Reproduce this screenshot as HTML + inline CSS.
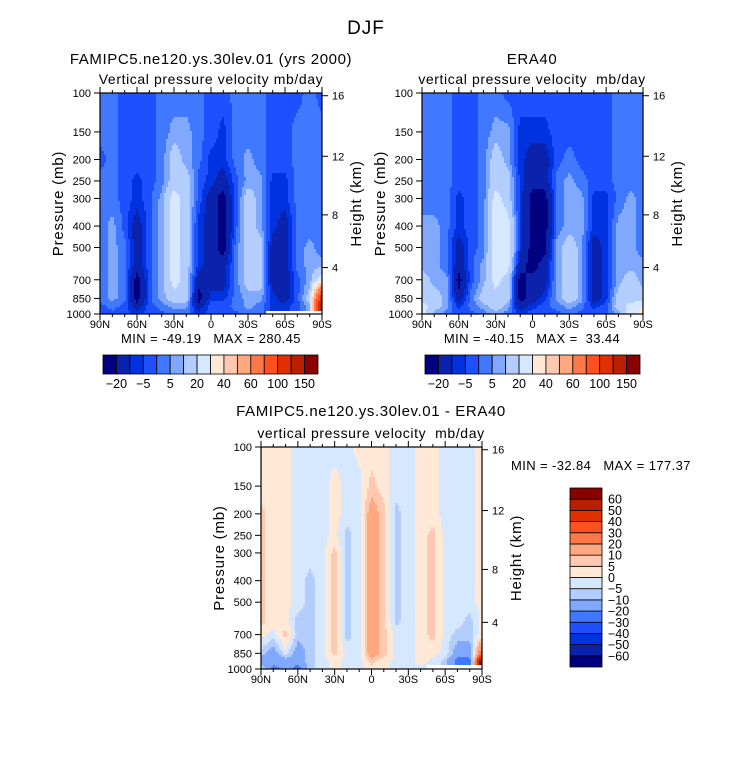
<!DOCTYPE html>
<html><head><meta charset="utf-8">
<style>
body{margin:0;background:#fff;}
svg text{font-family:"Liberation Sans",sans-serif;fill:#000;}
</style></head>
<body>
<svg id="fig" width="733" height="762" viewBox="0 0 733 762" xmlns="http://www.w3.org/2000/svg">
<rect x="0" y="0" width="733" height="762" fill="#fff"/>
<text x="366" y="34" font-size="19" text-anchor="middle" letter-spacing="1">DJF</text>
<text x="211" y="64" font-size="15" text-anchor="middle" letter-spacing="0.6">FAMIPC5.ne120.ys.30lev.01 (yrs 2000)</text>
<text x="211" y="84" font-size="14" text-anchor="middle" letter-spacing="0.6">Vertical pressure velocity mb/day</text>
<text x="532" y="64" font-size="15" text-anchor="middle" letter-spacing="0.6">ERA40</text>
<text x="532" y="84" font-size="14" text-anchor="middle" letter-spacing="0.6" xml:space="preserve">vertical pressure velocity  mb/day</text>
<text x="371" y="416" font-size="15" text-anchor="middle" letter-spacing="0.6">FAMIPC5.ne120.ys.30lev.01 - ERA40</text>
<text x="371" y="438" font-size="14" text-anchor="middle" letter-spacing="0.6" xml:space="preserve">vertical pressure velocity  mb/day</text>
<text x="211" y="343" font-size="13" text-anchor="middle" letter-spacing="0.4" xml:space="preserve">MIN = -49.19   MAX = 280.45</text>
<text x="532" y="343" font-size="13" text-anchor="middle" letter-spacing="0.4" xml:space="preserve">MIN = -40.15   MAX =  33.44</text>
<text x="511" y="470" font-size="13" letter-spacing="0.4" xml:space="preserve">MIN = -32.84   MAX = 177.37</text>
</svg>
<script>
const lats=[90,80,70,60,50,40,30,20,10,0,-10,-20,-30,-40,-50,-60,-70,-80,-90];
const pLevels=[100,150,200,250,300,400,500,600,700,850,925,1000];
const pTickLabels=[100,150,200,250,300,400,500,700,850,1000];
const latTickLabels=["90N","60N","30N","0","30S","60S","90S"];
const latTickValues=[90,60,30,0,-30,-60,-90];
const heightTicks=[16,12,8,4];
const palette=["#000080","#0a22ac","#0032e0","#1e50ff","#4078ff","#80a8ff","#b4cdff","#d6e8ff","#ffe8d6","#ffc8b0","#ffa880","#ff7848","#ff5020","#e03000","#b82000","#880000"];
const omegaLevels=[-20,-10,-5,0,5,10,20,30,40,50,60,80,100,120,150];
const omegaLabelIdx=[0,2,4,6,8,10,12,14];
const diffLevels=[-60,-50,-40,-30,-20,-10,-5,0,5,10,20,30,40,50,60];

const modelOmega=[
[2,2,-2,-2,-2,2,2,2,2,-2,-2,2,2,2,-2,-2,-2,2,-2],
[2,2,-2,-2,-2,2,7,7,2,-2,-7,2,2,2,-2,-2,2,2,2],
[-2,2,-2,-2,-2,2,15,7,2,-7,-7,2,7,2,-2,-2,2,2,2],
[2,2,-2,-7,-2,2,15,15,-2,-7,-15,-2,7,7,-7,-7,2,2,2],
[2,2,-2,-7,-2,7,25,15,-2,-15,-25,-2,15,7,-7,-7,2,2,2],
[2,7,-2,-15,-2,7,25,15,-7,-15,-25,-2,15,7,-7,-15,2,2,2],
[2,7,2,-15,-2,7,25,15,-7,-15,-25,2,15,15,-15,-15,2,7,2],
[2,7,2,-15,-2,7,25,15,-7,-15,-15,2,15,15,-15,-15,2,7,7],
[2,7,2,-25,-2,7,25,15,-15,-15,-15,2,15,15,-15,-15,-2,7,30],
[2,7,2,-25,-2,7,15,15,-25,-7,-7,2,7,7,-7,-15,-2,15,120],
[-2,2,-2,-15,-2,2,7,7,-15,-2,-2,2,7,2,-7,-7,-2,7,150],
[-2,-2,-2,-7,-2,-2,2,2,-7,-2,-2,-2,2,2,null,null,null,null,null]];

const eraOmega=[
[2,2,2,-2,-2,2,2,-2,-2,-2,-2,-2,-2,-2,-2,-2,2,2,2],
[2,2,2,-2,-2,2,7,7,-7,-7,-7,-2,-2,-2,-2,-2,2,2,2],
[2,2,2,-2,-2,2,15,7,-7,-15,-15,-2,2,-2,-2,-2,2,2,2],
[2,2,2,-2,-2,2,15,15,-7,-15,-15,2,7,2,-2,-2,2,2,2],
[2,2,2,-7,-2,2,25,15,-7,-25,-25,2,7,7,-7,-7,2,7,2],
[7,7,2,-7,-2,2,25,25,-7,-25,-25,2,7,7,-7,-7,7,7,2],
[7,7,2,-15,-2,2,25,25,-7,-25,-25,7,15,7,-15,-7,7,7,2],
[7,7,2,-15,-2,7,25,25,-15,-25,-15,7,15,7,-15,-7,7,7,7],
[15,7,7,-25,-2,7,25,15,-25,-15,-15,7,15,7,-15,-7,7,15,7],
[15,15,7,-15,2,15,15,15,-25,-15,-7,7,15,7,-15,-7,15,15,15],
[25,15,7,-7,2,7,15,7,-15,-7,-2,2,7,2,-7,-2,15,25,30],
[25,7,2,-2,-2,2,7,2,-7,-2,-2,-2,2,-2,-2,-2,7,25,35]];

const diffOmega=[
[2,2,2,-2,-2,-2,-2,-2,2,2,2,-2,-2,2,2,-2,-2,-2,2],
[2,2,2,-2,-2,-2,2,-2,-2,7,2,-2,-2,2,2,-2,-2,-2,2],
[7,2,2,-2,-2,-2,2,-2,-2,15,7,-7,-2,2,2,-2,-2,-2,2],
[7,2,2,-2,-2,-2,2,-7,-2,15,7,-7,-2,2,7,-2,-2,-2,2],
[7,2,2,-2,-2,-2,7,-7,-2,15,7,-7,-2,2,7,-2,-2,-2,2],
[7,2,2,-2,-7,-2,7,-7,-2,15,7,-7,-2,2,7,-2,-2,-2,2],
[7,2,2,-2,-7,-2,7,-7,-2,15,7,-7,-2,2,7,-2,-2,-2,2],
[7,2,2,-7,-7,-2,7,-7,-2,15,7,-7,-2,2,7,-2,-2,-7,2],
[2,-2,7,-7,-7,-2,7,-7,-2,15,7,-2,-2,2,7,-2,-7,-7,2],
[-7,-15,-2,-15,-7,-2,7,-2,-2,15,7,-2,-2,2,2,-2,-15,-15,30],
[-15,-15,-15,-15,-7,-2,2,-2,-2,7,2,-2,-2,2,-2,-7,-25,-25,80],
[-2,-25,-15,-25,-7,-2,2,-2,-2,2,2,-2,-2,-2,null,null,null,null,null]];

const NS="http://www.w3.org/2000/svg";
const svg=document.getElementById('fig');
function mk(tag,attrs,parent){const e=document.createElementNS(NS,tag);for(const k in attrs)e.setAttribute(k,attrs[k]);(parent||svg).appendChild(e);return e;}

function xScale(lat,x0,w){return x0+(90-lat)/180*w;}
function yScale(p,y0,h){return y0+Math.log10(p/100)*h;}
function heightToP(zkm){const z=zkm*1000;if(z<=11000)return 1013.25*Math.pow(1-2.25577e-5*z,5.25588);return 226.32*Math.exp(-(z-11000)/6341.6);}

function cellVal(data,k,j){let v=data[k][j];let kk=k;while(v===null&&kk>0){kk--;v=data[kk][j];}return v;}
function sample(data,lat,p){
  const fj=Math.min(Math.max((90-lat)/10,0),lats.length-1);let j=Math.min(Math.floor(fj),lats.length-2);const tj=fj-j;
  const lp=Math.log10(p);let k=0;while(k<pLevels.length-2&&p>pLevels[k+1])k++;
  const l0=Math.log10(pLevels[k]),l1=Math.log10(pLevels[k+1]);const tk=Math.min(Math.max((lp-l0)/(l1-l0),0),1);
  const nk=tk<0.5?k:k+1,nj=tj<0.5?j:j+1;
  if(data[nk][nj]===null)return null;
  const a=cellVal(data,k,j),b=cellVal(data,k,j+1),c=cellVal(data,k+1,j),d=cellVal(data,k+1,j+1);
  return (a*(1-tj)+b*tj)*(1-tk)+(c*(1-tj)+d*tj)*tk;
}
function colorFor(v,levels){if(v===null)return "#ffffff";let i=0;while(i<levels.length&&v>=levels[i])i++;return palette[i];}

function drawPanel(name,data,levels,x0,y0,w,h){
  const g=mk('g',{});
  
  
  const step=2;
  for(let py=0;py<h;py+=step){
    const p=100*Math.pow(10,Math.min(py+step/2,h)/h);
    let runStart=0,runCol=null;
    for(let px=0;px<w+step;px+=step){
      let col=null;
      if(px<w){const lat=90-(Math.min(px+step/2,w))/w*180;col=colorFor(sample(data,lat,p),levels);}
      if(col!==runCol){
        if(runCol!==null){
          const r=mk('rect',{x:x0+runStart,y:y0+py,width:Math.min(px,w)-runStart+0.5,height:Math.min(step,h-py)+0.5,fill:runCol},g);
          
          
        }
        runStart=px;runCol=col;
      }
    }
  }
  const frame=mk('rect',{x:x0,y:y0,width:w,height:h,fill:'none',stroke:'#000','stroke-width':1.2});
  
  
  for(let lat=90;lat>=-90;lat-=10){
    const x=xScale(lat,x0,w);const major=lat%30===0;const L=major?6:3;
    mk('line',{x1:x,y1:y0+h,x2:x,y2:y0+h+L,stroke:'#000','stroke-width':1});
    mk('line',{x1:x,y1:y0,x2:x,y2:y0-L,stroke:'#000','stroke-width':1});
  }
  latTickLabels.forEach((lab,i)=>{
    const t=mk('text',{x:xScale(latTickValues[i],x0,w),y:y0+h+14,'font-size':11,'text-anchor':'middle'});
    t.textContent=lab;
    
    
  });
  pTickLabels.forEach(p=>{
    const y=yScale(p,y0,h);
    mk('line',{x1:x0-6,y1:y,x2:x0,y2:y,stroke:'#000','stroke-width':1});
    const t=mk('text',{x:x0-9,y:y+4,'font-size':11,'text-anchor':'end'});
    t.textContent=p;
    
    
  });
  heightTicks.forEach(z=>{
    const y=yScale(heightToP(z),y0,h);
    mk('line',{x1:x0+w,y1:y,x2:x0+w+6,y2:y,stroke:'#000','stroke-width':1});
    const t=mk('text',{x:x0+w+10,y:y+4,'font-size':11});
    t.textContent=z;
    
    
  });
  const yl=mk('text',{x:0,y:0,'font-size':15,'text-anchor':'middle','letter-spacing':0.8,transform:`translate(${x0-37},${y0+h/2}) rotate(-90)`});
  yl.textContent='Pressure (mb)';
  
  
  const yr=mk('text',{x:0,y:0,'font-size':15,'text-anchor':'middle','letter-spacing':0.8,transform:`translate(${x0+w+39},${y0+h/2}) rotate(-90)`});
  yr.textContent='Height (km)';
  
  
}

function hColorbar(name,x0,y0,w,h,labels){
  const bw=w/16;
  for(let i=0;i<16;i++){
    const r=mk('rect',{x:x0+i*bw,y:y0,width:bw,height:h,fill:palette[i],stroke:'#000','stroke-width':0.8});
    
    
  }
  omegaLabelIdx.forEach(i=>{
    const t=mk('text',{x:x0+(i+1)*bw,y:y0+h+14,'font-size':12.5,'text-anchor':'middle'});
    t.textContent=String(labels[i]).replace('-','\u2212');
    
    
  });
}
function vColorbar(name,x0,y0,w,h,labels){
  const bh=h/16;
  for(let i=0;i<16;i++){
    const r=mk('rect',{x:x0,y:y0+(15-i)*bh,width:w,height:bh,fill:palette[i],stroke:'#000','stroke-width':0.8});
    
    
  }
  labels.forEach((v,i)=>{
    const t=mk('text',{x:x0+w+6,y:y0+(15-i)*bh+4.5,'font-size':12.5});
    t.textContent=String(v).replace('-','\u2212');
    
    
  });
}

drawPanel('model',modelOmega,omegaLevels,100,93,222,221);
drawPanel('era40',eraOmega,omegaLevels,422,93,221,221);
drawPanel('difference',diffOmega,diffLevels,261,447,221,222);
hColorbar('model-colorbar',103,355,215,19,omegaLevels);
hColorbar('era40-colorbar',425,355,215,19,omegaLevels);
vColorbar('difference-colorbar',570,488,32,179,diffLevels);
</script>
</body></html>
